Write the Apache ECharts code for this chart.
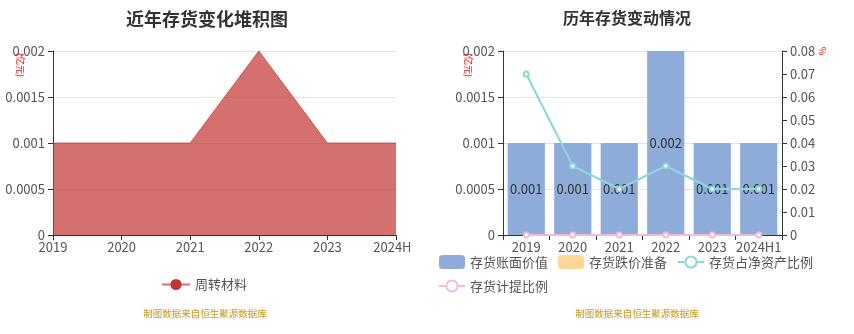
<!DOCTYPE html>
<html><head><meta charset="utf-8">
<script src="https://cdn.jsdelivr.net/npm/echarts@6/dist/echarts.min.js"></script>
<style>
html,body{margin:0;padding:0;background:#fff;width:854px;height:334px;overflow:hidden;font-family:"Noto Sans CJK SC","Noto Sans",sans-serif}
#c1{position:absolute;left:0;top:0;width:410px;height:334px}
#c2{position:absolute;left:420px;top:0;width:434px;height:334px}
</style></head><body>
<div id="c1"></div><div id="c2"></div>
<script>
const years = ['2019','2020','2021','2022','2023','2024H1'];
const leftTicks = [0, 0.0005, 0.001, 0.0015, 0.002];
const turnoverMaterial = [0.001, 0.001, 0.001, 0.002, 0.001, 0.001];
const bookValue = [0.001, 0.001, 0.001, 0.002, 0.001, 0.001];
const impairment = [0, 0, 0, 0, 0, 0];
const ratioNetAsset = [0.07, 0.03, 0.02, 0.03, 0.02, 0.02];
const provisionRatio = [0, 0, 0, 0, 0, 0];

const FONT = '"Noto Sans CJK SC","Noto Sans",sans-serif';
const axisLab = {color:'#555', fontSize:13, fontFamily:FONT};
const src = '制图数据来自恒生聚源数据库';

const c1 = echarts.init(document.getElementById('c1'));
c1.setOption({
  animation:false,
  textStyle:{fontFamily:FONT},
  title:{text:'近年存货变化堆积图', left:202, top:5, textAlign:'center',
    textStyle:{fontSize:18, fontWeight:'bold', color:'#333', fontFamily:FONT}},
  grid:{left:53, right:14, top:51, bottom:99, containLabel:false, outerBoundsMode:'none'},
  legend:{left:156, top:273, itemWidth:28, itemHeight:14, data:['周转材料'],
    textStyle:{fontSize:13, color:'#555', fontFamily:FONT}},
  xAxis:{type:'category', data:years, boundaryGap:false,
    axisLine:{lineStyle:{color:'#333'}}, axisTick:{show:true},
    axisLabel:Object.assign({margin:6, interval:0, hideOverlap:false}, axisLab)},
  yAxis:{type:'value', min:0, max:0.002, interval:0.0005,
    axisLine:{show:true, lineStyle:{color:'#333'}}, axisTick:{show:true},
    splitLine:{lineStyle:{color:'#e3e3e3'}},
    axisLabel:axisLab},
  series:[{name:'周转材料', type:'line', stack:'a', data:turnoverMaterial,
    symbol:'circle', symbolSize:8, showSymbol:false,
    itemStyle:{color:'#c23531'}, lineStyle:{color:'#c23531', width:1, opacity:0.7},
    areaStyle:{color:'#c23531', opacity:0.7}}],
  graphic:[
    {type:'text', left:16, top:53, rotation:-Math.PI/2, style:{text:'(亿元)', fill:'#ff0000', fontSize:9, fontFamily:FONT}},
    {type:'text', left:'center', top:309, style:{text:src, fill:'#c8961e', fontSize:9.5, fontFamily:FONT}}
  ]
});

const c2 = echarts.init(document.getElementById('c2'));
c2.setOption({
  animation:false,
  textStyle:{fontFamily:FONT},
  title:{text:'历年存货变动情况', left:202, top:5, textAlign:'center',
    textStyle:{fontSize:16, fontWeight:'bold', color:'#333', fontFamily:FONT}},
  grid:{left:83, right:72, top:51, bottom:99, containLabel:false, outerBoundsMode:'none'},
  legend:{left:13, right:10, top:250, itemWidth:26, itemHeight:14, itemGap:10,
    data:['存货账面价值','存货跌价准备','存货占净资产比例','存货计提比例'],
    textStyle:{fontSize:13, color:'#555', fontFamily:FONT}},
  xAxis:{type:'category', data:years,
    axisLine:{lineStyle:{color:'#333'}}, axisTick:{show:true},
    axisLabel:Object.assign({margin:6, interval:0, hideOverlap:false}, axisLab)},
  yAxis:[
    {type:'value', min:0, max:0.002, interval:0.0005,
      axisLine:{show:true, lineStyle:{color:'#333'}}, axisTick:{show:true},
      splitLine:{lineStyle:{color:'#e3e3e3'}}, axisLabel:axisLab},
    {type:'value', min:0, max:0.08, interval:0.01, position:'right',
      axisLine:{show:true, lineStyle:{color:'#333'}}, axisTick:{show:true},
      splitLine:{show:false}, axisLabel:axisLab}
  ],
  series:[
    {name:'存货账面价值', type:'bar', stack:'b', data:bookValue, barWidth:'80%',
      itemStyle:{color:'#8eacda'},
      label:{show:true, position:'inside', color:'#333', fontSize:13, fontFamily:FONT}},
    {name:'存货跌价准备', type:'bar', stack:'b', data:impairment,
      itemStyle:{color:'#ffd898'}},
    {name:'存货占净资产比例', type:'line', yAxisIndex:1, data:ratioNetAsset,
      symbol:'emptyCircle', symbolSize:5, itemStyle:{color:'#8ed6da'}, lineStyle:{color:'#8ed6da', width:2}},
    {name:'存货计提比例', type:'line', yAxisIndex:1, data:provisionRatio,
      symbol:'emptyCircle', symbolSize:5, itemStyle:{color:'#f0bcd8'}, lineStyle:{color:'#f0bcd8', width:2}}
  ],
  graphic:[
    {type:'text', left:44, top:53, rotation:-Math.PI/2, style:{text:'(亿元)', fill:'#ff0000', fontSize:9, fontFamily:FONT}},
    {type:'text', left:398, top:47, rotation:-Math.PI/2, style:{text:'%', fill:'#ff0000', fontSize:9, fontFamily:FONT}},
    {type:'text', left:'center', top:309, style:{text:src, fill:'#c8961e', fontSize:9.5, fontFamily:FONT}}
  ]
});
</script></body></html>
